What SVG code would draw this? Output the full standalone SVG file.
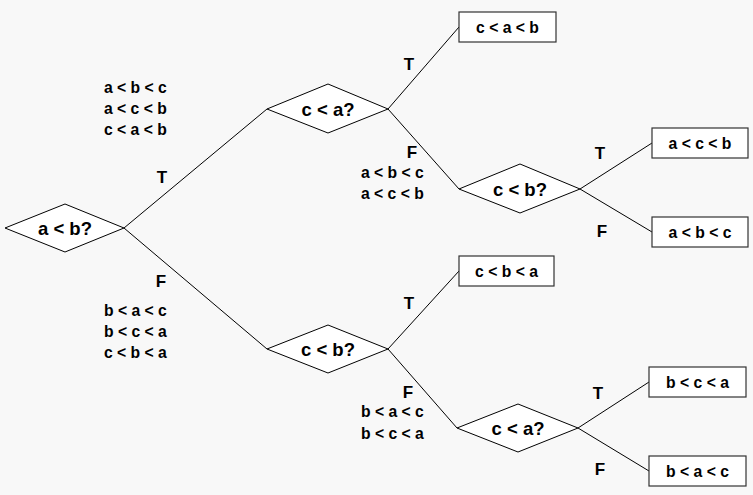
<svg xmlns="http://www.w3.org/2000/svg" width="753" height="495" viewBox="0 0 753 495">
<style>
.bg{fill:#f8f8f8}
.d{fill:#ffffff;stroke:#000;stroke-width:1}
.b{fill:#ffffff;stroke:#333;stroke-width:1.2}
.c line{stroke:#000;stroke-width:1}
text{font-family:"Liberation Sans",Arial,sans-serif;font-weight:bold;fill:#000}
.n{font-size:18.5px;text-anchor:middle;dominant-baseline:central}
.bx{font-size:15.7px;text-anchor:middle;dominant-baseline:central}
.l{font-size:15.7px;dominant-baseline:central}
.tf{font-size:17px;text-anchor:middle;dominant-baseline:central}
</style>
<rect class="bg" x="0" y="0" width="753" height="495"/>
<g id="connectors" class="c">
<line x1="124" y1="228" x2="267" y2="109"/>
<line x1="124" y1="228" x2="267" y2="349"/>
<line x1="388" y1="109" x2="459" y2="27"/>
<line x1="388" y1="109" x2="459" y2="189"/>
<line x1="580" y1="189" x2="652" y2="143"/>
<line x1="580" y1="189" x2="652" y2="232"/>
<line x1="388" y1="349" x2="459" y2="271"/>
<line x1="388" y1="349" x2="457" y2="428"/>
<line x1="578" y1="428" x2="649" y2="382"/>
<line x1="578" y1="428" x2="649" y2="471"/>
</g>
<g id="n_ab"><polygon class="d" points="5,228 65,204 124,228 65,252"/><text class="n" x="65" y="228">a &lt; b?</text></g>
<g id="n_ca1"><polygon class="d" points="267,109 328,84 388,109 328,133"/><text class="n" x="328" y="109">c &lt; a?</text></g>
<g id="n_cb1"><polygon class="d" points="459,189 520,164 580,189 520,213"/><text class="n" x="520" y="189">c &lt; b?</text></g>
<g id="n_cb2"><polygon class="d" points="267,349 328,325 388,349 328,373"/><text class="n" x="328" y="349">c &lt; b?</text></g>
<g id="n_ca2"><polygon class="d" points="457,428 518,404 578,428 518,452"/><text class="n" x="518" y="428">c &lt; a?</text></g>
<g id="r_cab"><rect class="b" x="459" y="12" width="97" height="30"/><text class="bx" x="507.5" y="27">c &lt; a &lt; b</text></g>
<g id="r_acb"><rect class="b" x="652" y="128" width="96" height="30"/><text class="bx" x="700" y="143">a &lt; c &lt; b</text></g>
<g id="r_abc"><rect class="b" x="652" y="217" width="96" height="30"/><text class="bx" x="700" y="232">a &lt; b &lt; c</text></g>
<g id="r_cba"><rect class="b" x="459" y="256" width="95" height="30"/><text class="bx" x="506.5" y="271">c &lt; b &lt; a</text></g>
<g id="r_bca"><rect class="b" x="649" y="367" width="97" height="30"/><text class="bx" x="697.5" y="382">b &lt; c &lt; a</text></g>
<g id="r_bac"><rect class="b" x="649" y="456" width="97" height="30"/><text class="bx" x="697.5" y="471">b &lt; a &lt; c</text></g>
<g id="labels">
<text class="l" x="104" y="87">a &lt; b &lt; c</text>
<text class="l" x="104" y="108">a &lt; c &lt; b</text>
<text class="l" x="104" y="129">c &lt; a &lt; b</text>
<text class="l" x="104" y="310">b &lt; a &lt; c</text>
<text class="l" x="104" y="331">b &lt; c &lt; a</text>
<text class="l" x="104" y="352">c &lt; b &lt; a</text>
<text class="l" x="361" y="172">a &lt; b &lt; c</text>
<text class="l" x="361" y="193">a &lt; c &lt; b</text>
<text class="l" x="361" y="411">b &lt; a &lt; c</text>
<text class="l" x="361" y="433">b &lt; c &lt; a</text>
<text class="tf" x="162" y="177">T</text>
<text class="tf" x="161" y="281">F</text>
<text class="tf" x="409" y="64">T</text>
<text class="tf" x="412" y="152">F</text>
<text class="tf" x="600" y="153">T</text>
<text class="tf" x="602" y="231">F</text>
<text class="tf" x="409" y="303">T</text>
<text class="tf" x="408" y="392">F</text>
<text class="tf" x="598" y="393">T</text>
<text class="tf" x="600" y="469">F</text>
</g>
</svg>
